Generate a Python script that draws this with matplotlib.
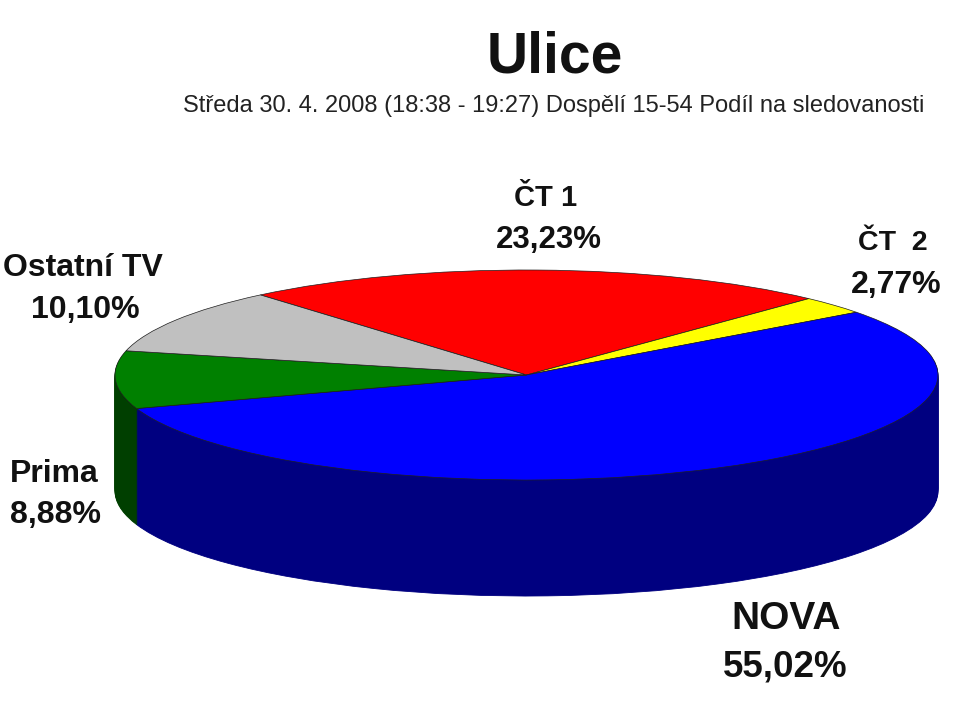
import matplotlib
matplotlib.use("Agg")
import matplotlib.pyplot as plt

channels = ["ČT 1", "ČT  2", "NOVA", "Prima", "Ostatní TV"]
shares = [23.23, 2.77, 55.02, 8.88, 10.10]
share_labels = ["23,23%", "2,77%", "55,02%", "8,88%", "10,10%"]
top_colors = ["#FF0000", "#FFFF00", "#0000FF", "#008000", "#C0C0C0"]
side_colors = ["#800000", "#808000", "#000080", "#003F00", "#606060"]

W, H = 959, 703
CX, CY, RX, RY, DEPTH = 526.5, 375, 411.5, 105, 116
plt.rcParams["font.family"] = ["Liberation Sans", "DejaVu Sans"]

fig = plt.figure(figsize=(W / 100, H / 100), dpi=100, facecolor="white")
ax = fig.add_axes([0, 0, 1, 1])
START = 130.3
for i in range(DEPTH, 0, -1):
    wedges, _ = ax.pie(shares, colors=side_colors, startangle=START, counterclock=False,
                       center=(0, -i / RY), radius=1, frame=True)
    for w, c in zip(wedges, side_colors):
        w.set_edgecolor(c)
        w.set_linewidth(0.6)
wedges, _ = ax.pie(shares, colors=top_colors, startangle=START, counterclock=False,
                   center=(0, 0), radius=1, frame=True,
                   wedgeprops=dict(linewidth=0.5, edgecolor="#202020"))
ax.set_aspect("auto")
ax.set_xlim((0 - CX) / RX, (W - CX) / RX)
ax.set_ylim((CY - H) / RY, (CY - 0) / RY)
ax.axis("off")

def T(px, py, s, **kw):
    ax.text((px - CX) / RX, (CY - py) / RY, s, ha="center", va="center", **kw)

T(555, 57, "Ulice", fontsize=41, fontweight="bold", color="#111111")
T(554, 106, "Středa 30. 4. 2008 (18:38 - 19:27) Dospělí 15-54 Podíl na sledovanosti",
  fontsize=17, color="#222222")

label_pos = [((546, 198), (549, 240)), ((893, 243), (896, 285)), ((786, 619), (785, 667)),
             ((54, 474), (56, 515)), ((83, 268), (85, 310))]
name_sizes = [21, 20.5, 28, 23, 23]
value_sizes = [22.5, 23, 26.5, 23, 23]
for name, val, (p1, p2), fs1, fs2 in zip(channels, share_labels, label_pos, name_sizes, value_sizes):
    T(p1[0], p1[1], name, fontsize=fs1, fontweight="bold", color="#111111")
    T(p2[0], p2[1], val, fontsize=fs2, fontweight="bold", color="#111111")

fig.savefig("out.png", dpi=100, facecolor="white")
